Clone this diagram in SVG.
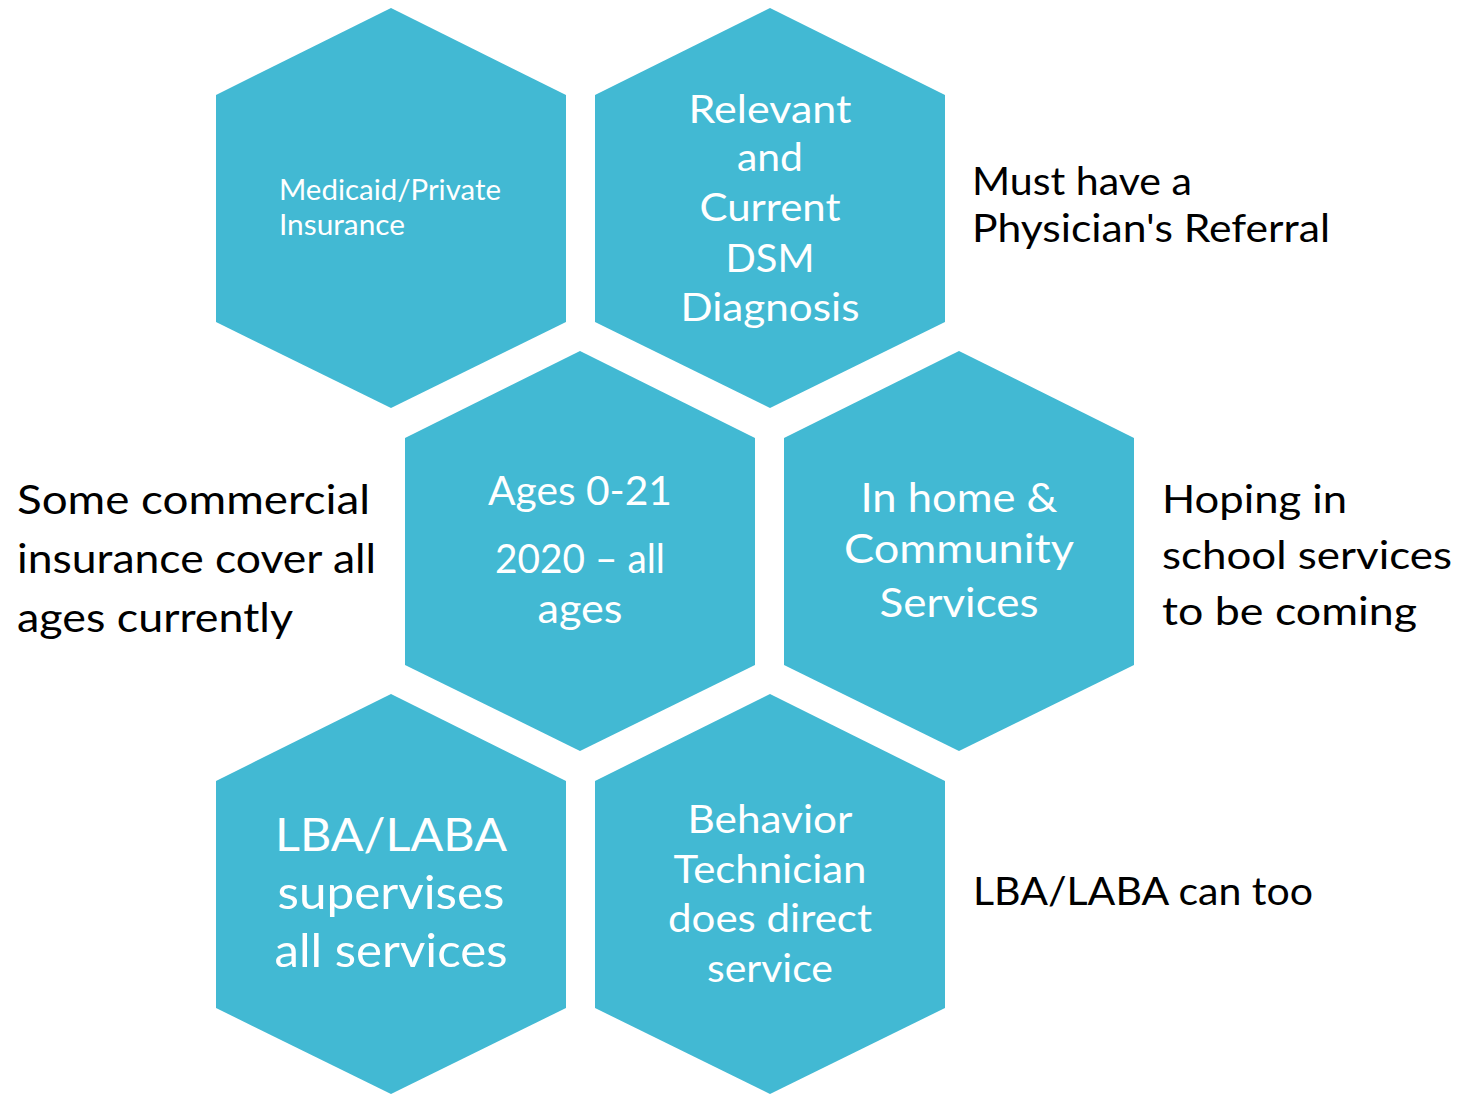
<svg xmlns="http://www.w3.org/2000/svg" xmlns:xlink="http://www.w3.org/1999/xlink" width="1481" height="1094" viewBox="0 0 1481 1094">
  <style>
    .hex { fill: #42B9D3; }
    .in { font-family: Lato, "Open Sans", "Liberation Sans", sans-serif; fill: #ffffff; }
    .out { font-family: Lato, "Open Sans", "Liberation Sans", sans-serif; fill: #000000; }
    .c { text-anchor: middle; }
  </style>
  <defs>
    <polygon id="hx" points="0,-200 175,-113 175,114 0,200 -175,114 -175,-113"/>
  </defs>
  <rect width="1481" height="1094" fill="#ffffff"/>

  <g id="node-medicaid">
    <use xlink:href="#hx" href="#hx" class="hex" x="391" y="208"/>
    <text class="in" font-size="28" x="279" y="200" textLength="222" lengthAdjust="spacingAndGlyphs">Medicaid/Private</text>
    <text class="in" font-size="28" x="279" y="235" textLength="126" lengthAdjust="spacingAndGlyphs">Insurance</text>
  </g>

  <g id="node-dsm">
    <use xlink:href="#hx" href="#hx" class="hex" x="770" y="208"/>
    <text class="in c" font-size="39" x="770" y="123" textLength="163" lengthAdjust="spacingAndGlyphs">Relevant</text>
    <text class="in c" font-size="39" x="770" y="171" textLength="66" lengthAdjust="spacingAndGlyphs">and</text>
    <text class="in c" font-size="39" x="770" y="221" textLength="141" lengthAdjust="spacingAndGlyphs">Current</text>
    <text class="in c" font-size="39" x="770" y="272" textLength="89" lengthAdjust="spacingAndGlyphs">DSM</text>
    <text class="in c" font-size="39" x="770" y="321" textLength="179" lengthAdjust="spacingAndGlyphs">Diagnosis</text>
  </g>

  <g id="note-referral">
    <text class="out" font-size="39" x="972" y="195" textLength="220" lengthAdjust="spacingAndGlyphs">Must have a</text>
    <text class="out" font-size="39" x="972" y="242" textLength="358" lengthAdjust="spacingAndGlyphs">Physician's Referral</text>
  </g>

  <g id="node-ages">
    <use xlink:href="#hx" href="#hx" class="hex" x="580" y="551"/>
    <text class="in c" font-size="40" x="580" y="505" textLength="184" lengthAdjust="spacingAndGlyphs">Ages 0-21</text>
    <text class="in c" font-size="40" x="580" y="573" textLength="170" lengthAdjust="spacingAndGlyphs">2020 – all</text>
    <text class="in c" font-size="40" x="580" y="623" textLength="85" lengthAdjust="spacingAndGlyphs">ages</text>
  </g>

  <g id="note-commercial">
    <text class="out" font-size="41" x="17" y="514" textLength="353" lengthAdjust="spacingAndGlyphs">Some commercial</text>
    <text class="out" font-size="41" x="17" y="573" textLength="359" lengthAdjust="spacingAndGlyphs">insurance cover all</text>
    <text class="out" font-size="41" x="17" y="632" textLength="276" lengthAdjust="spacingAndGlyphs">ages currently</text>
  </g>

  <g id="node-community">
    <use xlink:href="#hx" href="#hx" class="hex" x="959" y="551"/>
    <text class="in c" font-size="40" x="959" y="512" textLength="197" lengthAdjust="spacingAndGlyphs">In home &amp;</text>
    <text class="in c" font-size="40" x="959" y="563" textLength="230" lengthAdjust="spacingAndGlyphs">Community</text>
    <text class="in c" font-size="40" x="959" y="617" textLength="159" lengthAdjust="spacingAndGlyphs">Services</text>
  </g>

  <g id="note-school">
    <text class="out" font-size="39" x="1162" y="513" textLength="185" lengthAdjust="spacingAndGlyphs">Hoping in</text>
    <text class="out" font-size="39" x="1162" y="569" textLength="290" lengthAdjust="spacingAndGlyphs">school services</text>
    <text class="out" font-size="39" x="1162" y="625" textLength="255" lengthAdjust="spacingAndGlyphs">to be coming</text>
  </g>

  <g id="node-lba">
    <use xlink:href="#hx" href="#hx" class="hex" x="391" y="894"/>
    <text class="in c" font-size="47" x="391" y="851" textLength="232" lengthAdjust="spacingAndGlyphs">LBA/LABA</text>
    <text class="in c" font-size="47" x="391" y="909" textLength="227" lengthAdjust="spacingAndGlyphs">supervises</text>
    <text class="in c" font-size="47" x="391" y="967" textLength="233" lengthAdjust="spacingAndGlyphs">all services</text>
  </g>

  <g id="node-technician">
    <use xlink:href="#hx" href="#hx" class="hex" x="770" y="894"/>
    <text class="in c" font-size="39" x="770" y="833" textLength="165" lengthAdjust="spacingAndGlyphs">Behavior</text>
    <text class="in c" font-size="39" x="770" y="883" textLength="193" lengthAdjust="spacingAndGlyphs">Technician</text>
    <text class="in c" font-size="39" x="770" y="932" textLength="204" lengthAdjust="spacingAndGlyphs">does direct</text>
    <text class="in c" font-size="39" x="770" y="982" textLength="126" lengthAdjust="spacingAndGlyphs">service</text>
  </g>

  <g id="note-lba">
    <text class="out" font-size="39" x="973" y="905" textLength="340" lengthAdjust="spacingAndGlyphs">LBA/LABA can too</text>
  </g>

  <g id="connectors"></g>
</svg>
